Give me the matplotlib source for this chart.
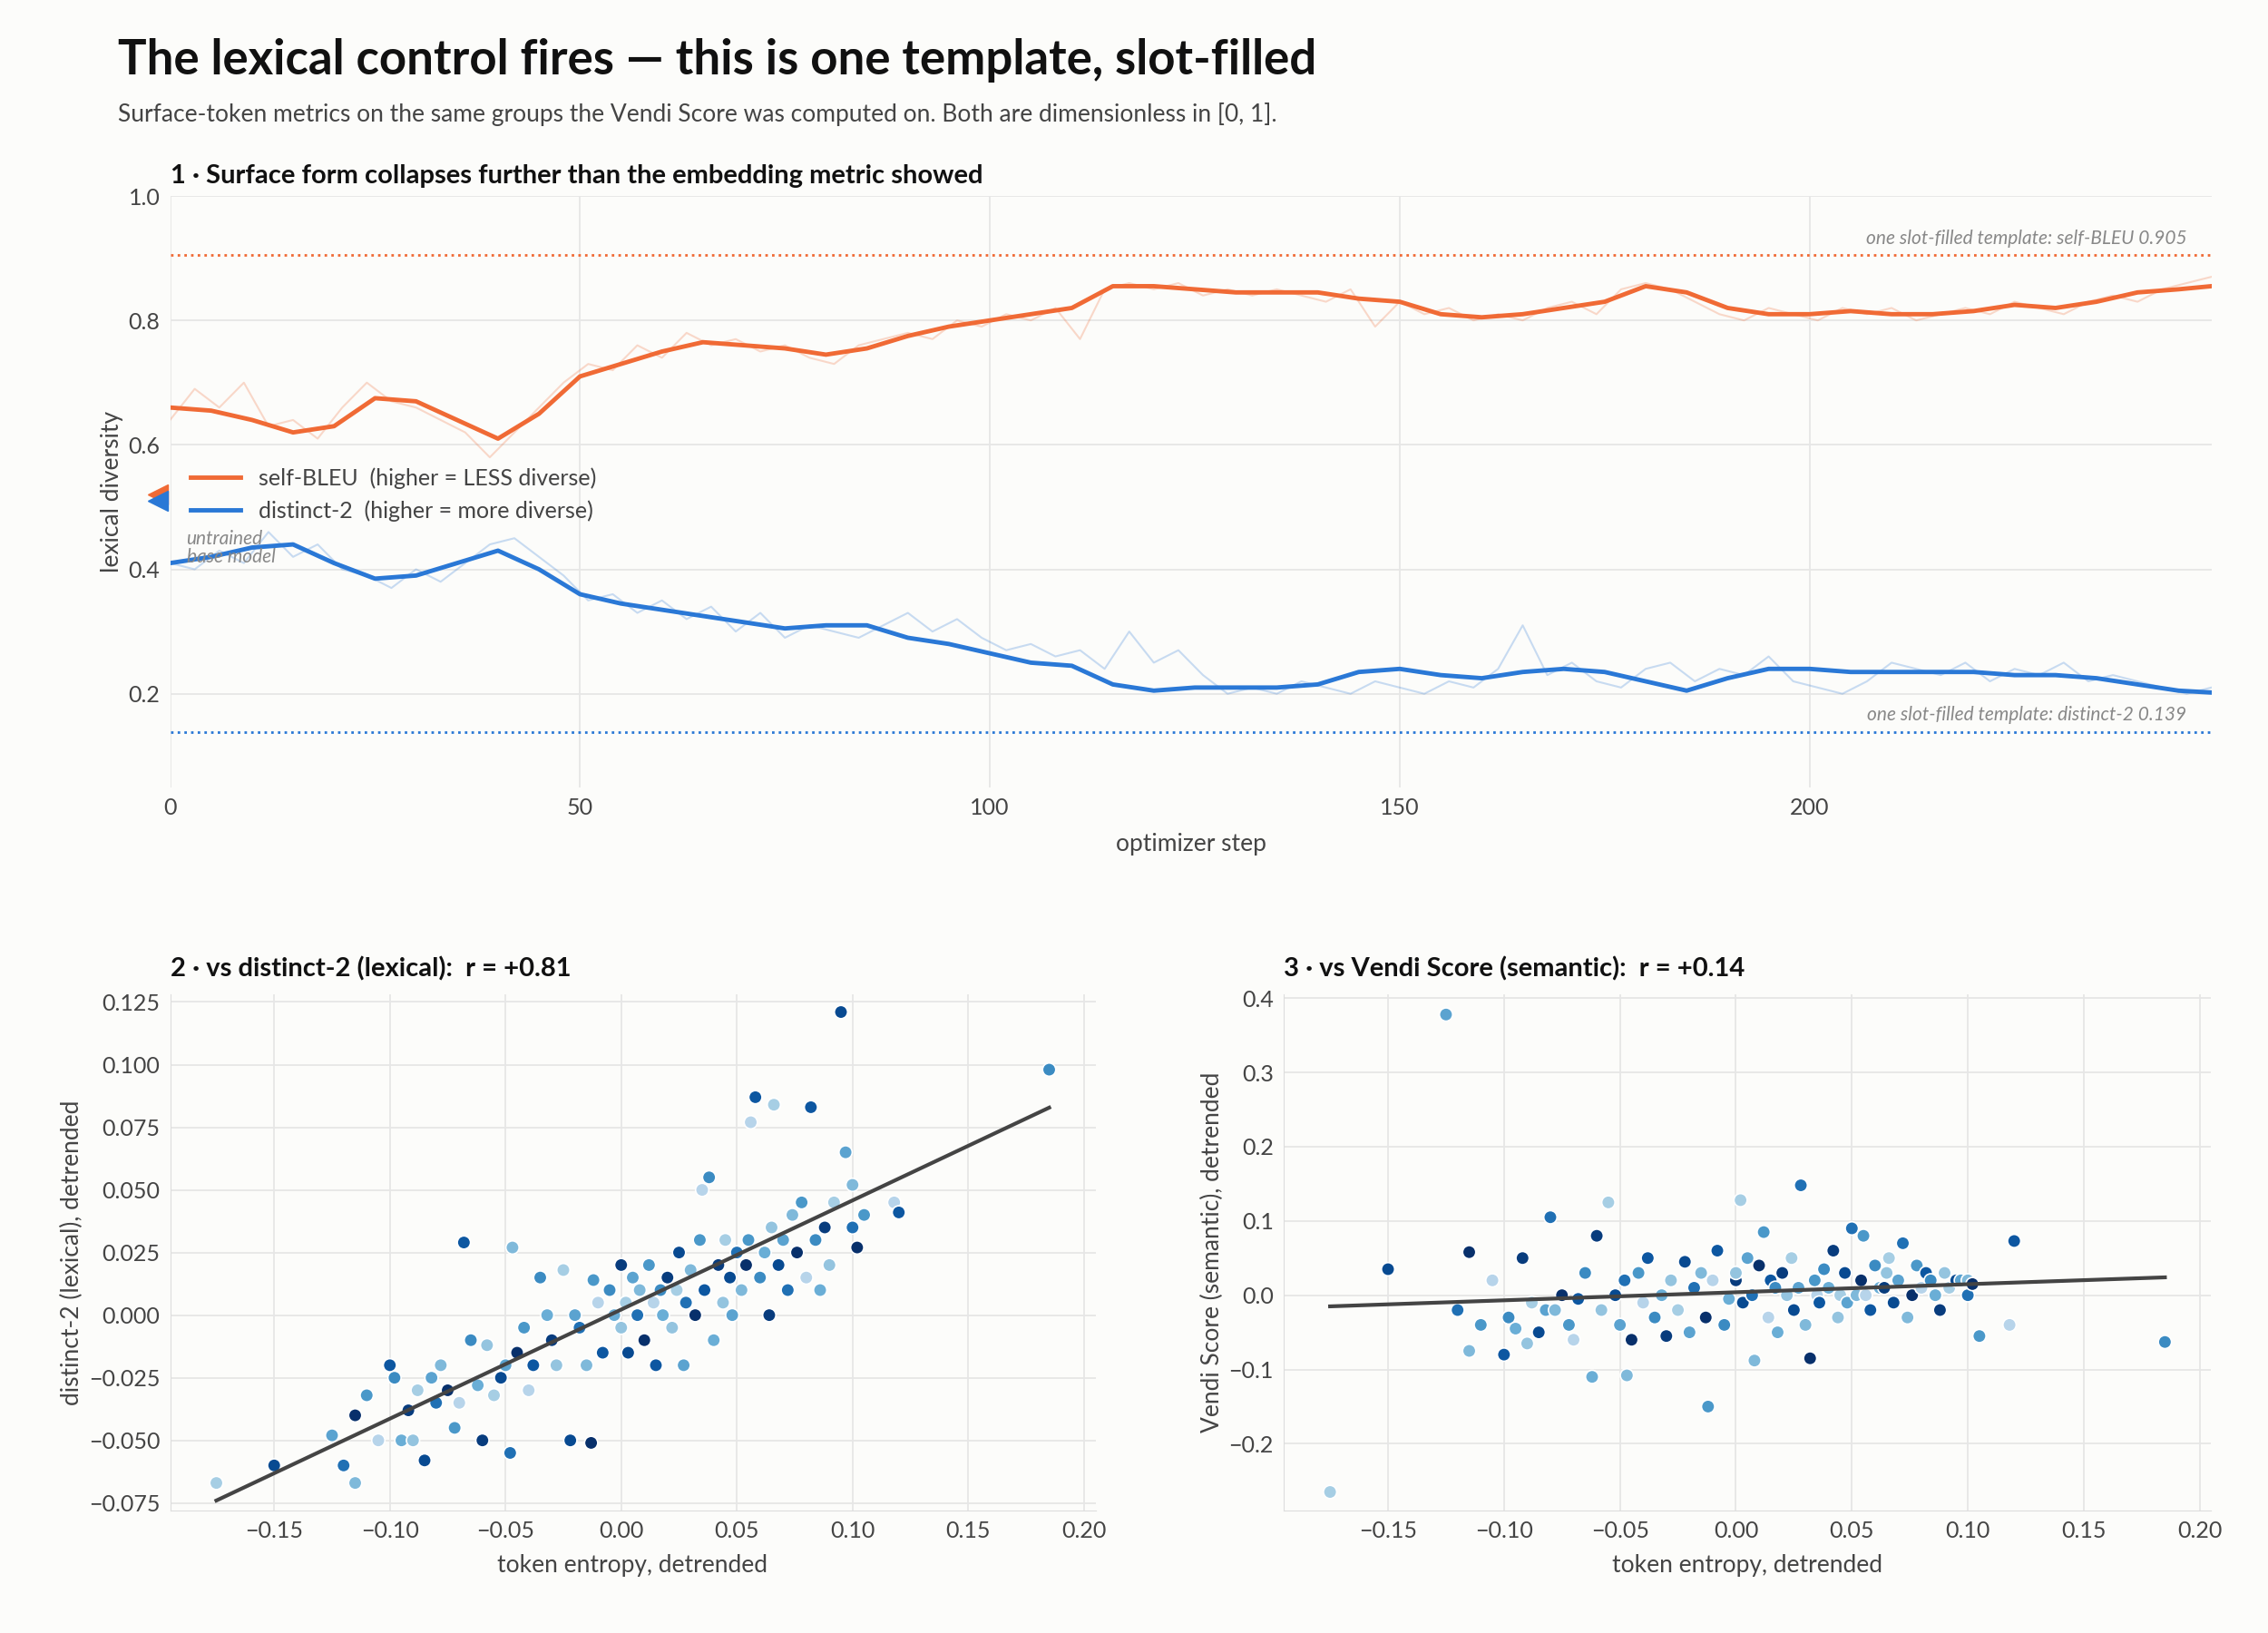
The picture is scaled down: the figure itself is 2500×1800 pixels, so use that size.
import matplotlib
matplotlib.use('Agg')
import matplotlib.pyplot as plt
import numpy as np

plt.rcParams['font.family'] = ['Lato', 'DejaVu Sans']

ORANGE = '#f06a35'
BLUE = '#2a78d6'
BG = '#fcfcfa'
GRID = '#e6e6e6'
TXT = '#444444'

# smoothed curves, every 5 optimizer steps (plus the last step)
smooth_steps = list(range(0, 250, 5)) + [249]
sb_smooth = [0.66, 0.655, 0.64, 0.62, 0.63, 0.675, 0.67, 0.64, 0.61, 0.65,
             0.71, 0.73, 0.75, 0.765, 0.76, 0.755, 0.745, 0.755, 0.775, 0.79,
             0.80, 0.81, 0.82, 0.855, 0.855, 0.85, 0.845, 0.845, 0.845, 0.835,
             0.83, 0.81, 0.805, 0.81, 0.82, 0.83, 0.855, 0.845, 0.82, 0.81,
             0.81, 0.815, 0.81, 0.81, 0.815, 0.825, 0.82, 0.83, 0.845, 0.85, 0.855]
d2_smooth = [0.41, 0.42, 0.435, 0.44, 0.41, 0.385, 0.39, 0.41, 0.43, 0.40,
             0.36, 0.345, 0.335, 0.325, 0.315, 0.305, 0.31, 0.31, 0.29, 0.28,
             0.265, 0.25, 0.245, 0.215, 0.205, 0.21, 0.21, 0.21, 0.215, 0.235,
             0.24, 0.23, 0.225, 0.235, 0.24, 0.235, 0.22, 0.205, 0.225, 0.24,
             0.24, 0.235, 0.235, 0.235, 0.235, 0.23, 0.23, 0.225, 0.215, 0.205, 0.202]

# raw per-step values, every 3 steps
sb_raw = [0.64, 0.69, 0.66, 0.70, 0.63, 0.64, 0.61, 0.66, 0.70, 0.67, 0.66, 0.64,
          0.62, 0.58, 0.62, 0.66, 0.70, 0.73, 0.72, 0.76, 0.74, 0.78, 0.76, 0.77,
          0.75, 0.76, 0.74, 0.73, 0.76, 0.77, 0.78, 0.77, 0.80, 0.79, 0.81, 0.80,
          0.82, 0.77, 0.85, 0.86, 0.85, 0.86, 0.84, 0.85, 0.84, 0.85, 0.84, 0.83,
          0.85, 0.79, 0.83, 0.81, 0.82, 0.80, 0.81, 0.80, 0.82, 0.83, 0.81, 0.85,
          0.86, 0.85, 0.83, 0.81, 0.80, 0.82, 0.81, 0.80, 0.82, 0.81, 0.82, 0.80,
          0.81, 0.82, 0.81, 0.83, 0.82, 0.81, 0.83, 0.84, 0.83, 0.85, 0.86, 0.87]
d2_raw = [0.41, 0.40, 0.43, 0.41, 0.46, 0.42, 0.44, 0.40, 0.39, 0.37, 0.40, 0.38,
          0.41, 0.44, 0.45, 0.42, 0.39, 0.35, 0.36, 0.33, 0.35, 0.32, 0.34, 0.30,
          0.33, 0.29, 0.31, 0.30, 0.29, 0.31, 0.33, 0.30, 0.32, 0.29, 0.27, 0.28,
          0.26, 0.27, 0.24, 0.30, 0.25, 0.27, 0.23, 0.20, 0.21, 0.20, 0.22, 0.21,
          0.20, 0.22, 0.21, 0.20, 0.22, 0.21, 0.24, 0.31, 0.23, 0.25, 0.22, 0.21,
          0.24, 0.25, 0.22, 0.24, 0.23, 0.26, 0.22, 0.21, 0.20, 0.22, 0.25, 0.24,
          0.23, 0.25, 0.22, 0.24, 0.23, 0.25, 0.22, 0.23, 0.22, 0.21, 0.20, 0.21]

template_sb = 0.905
template_d2 = 0.139
base_sb = 0.52
base_d2 = 0.51

# detrended per-group values: token entropy, distinct-2, Vendi Score
pts = [(-0.175, -0.067, -0.265), (-0.150, -0.060, 0.035), (-0.125, -0.048, 0.378), (-0.120, -0.060, -0.020),
       (-0.115, -0.067, -0.075), (-0.115, -0.040, 0.058), (-0.110, -0.032, -0.040), (-0.105, -0.050, 0.020),
       (-0.100, -0.020, -0.080), (-0.098, -0.025, -0.030), (-0.095, -0.050, -0.045), (-0.092, -0.038, 0.050),
       (-0.090, -0.050, -0.065), (-0.088, -0.030, -0.010), (-0.085, -0.058, -0.050), (-0.082, -0.025, -0.020),
       (-0.080, -0.035, 0.105), (-0.078, -0.020, -0.020), (-0.075, -0.030, 0.000), (-0.072, -0.045, -0.040),
       (-0.070, -0.035, -0.060), (-0.068, 0.029, -0.005), (-0.065, -0.010, 0.030), (-0.062, -0.028, -0.110),
       (-0.060, -0.050, 0.080), (-0.058, -0.012, -0.020), (-0.055, -0.032, 0.125), (-0.052, -0.025, 0.000),
       (-0.050, -0.020, -0.040), (-0.048, -0.055, 0.020), (-0.047, 0.027, -0.108), (-0.045, -0.015, -0.060),
       (-0.042, -0.005, 0.030), (-0.040, -0.030, -0.010), (-0.038, -0.020, 0.050), (-0.035, 0.015, -0.030),
       (-0.032, 0.000, 0.000), (-0.030, -0.010, -0.055), (-0.028, -0.020, 0.020), (-0.025, 0.018, -0.020),
       (-0.022, -0.050, 0.045), (-0.020, 0.000, -0.050), (-0.018, -0.005, 0.010), (-0.015, -0.020, 0.030),
       (-0.013, -0.051, -0.030), (-0.012, 0.014, -0.150), (-0.010, 0.005, 0.020), (-0.008, -0.015, 0.060),
       (-0.005, 0.010, -0.040), (-0.003, 0.000, -0.005), (0.000, 0.020, 0.020), (0.000, -0.005, 0.030),
       (0.002, 0.005, 0.128), (0.003, -0.015, -0.010), (0.005, 0.015, 0.050), (0.007, 0.000, 0.000),
       (0.008, 0.010, -0.088), (0.010, -0.010, 0.040), (0.012, 0.020, 0.085), (0.014, 0.005, -0.030),
       (0.015, -0.020, 0.020), (0.017, 0.010, 0.010), (0.018, 0.000, -0.050), (0.020, 0.015, 0.030),
       (0.022, -0.005, 0.000), (0.024, 0.010, 0.050), (0.025, 0.025, -0.020), (0.027, -0.020, 0.010),
       (0.028, 0.005, 0.148), (0.030, 0.018, -0.040), (0.032, 0.000, -0.085), (0.034, 0.030, 0.020),
       (0.035, 0.050, 0.000), (0.036, 0.010, -0.010), (0.038, 0.055, 0.035), (0.040, -0.010, 0.010),
       (0.042, 0.020, 0.060), (0.044, 0.005, -0.030), (0.045, 0.030, 0.000), (0.047, 0.015, 0.030),
       (0.048, 0.000, -0.010), (0.050, 0.025, 0.090), (0.052, 0.010, 0.000), (0.054, 0.020, 0.020),
       (0.055, 0.030, 0.080), (0.056, 0.077, 0.000), (0.058, 0.087, -0.020), (0.060, 0.015, 0.040),
       (0.062, 0.025, 0.010), (0.064, 0.000, 0.010), (0.065, 0.035, 0.030), (0.066, 0.084, 0.050),
       (0.068, 0.020, -0.010), (0.070, 0.030, 0.020), (0.072, 0.010, 0.070), (0.074, 0.040, -0.030),
       (0.076, 0.025, 0.000), (0.078, 0.045, 0.040), (0.080, 0.015, 0.010), (0.082, 0.083, 0.030),
       (0.084, 0.030, 0.020), (0.086, 0.010, 0.000), (0.088, 0.035, -0.020), (0.090, 0.020, 0.030),
       (0.092, 0.045, 0.010), (0.095, 0.121, 0.020), (0.097, 0.065, 0.020), (0.100, 0.035, 0.000),
       (0.100, 0.052, 0.020), (0.102, 0.027, 0.015), (0.105, 0.040, -0.055), (0.118, 0.045, -0.040),
       (0.120, 0.041, 0.073), (0.185, 0.098, -0.063)]
ent = np.array([p[0] for p in pts])
dist2 = np.array([p[1] for p in pts])
vendi = np.array([p[2] for p in pts])
shade_cycle = [0.35, 0.9, 0.55, 0.75, 0.45, 1.0, 0.6, 0.3, 0.85, 0.65, 0.5, 0.95, 0.4]
shades = np.resize(shade_cycle, len(pts))

fig = plt.figure(figsize=(25, 18), dpi=100, facecolor=BG)
fig.text(0.052, 0.963, 'The lexical control fires \u2014 this is one template, slot-filled',
         fontsize=38, fontweight='bold', color='#111111', va='center')
fig.text(0.052, 0.930, 'Surface-token metrics on the same groups the Vendi Score was computed on. '
         'Both are dimensionless in [0, 1].', fontsize=19, color=TXT, va='center')


def style(ax):
    ax.set_facecolor(BG)
    ax.grid(True, color=GRID, lw=1.3)
    ax.set_axisbelow(True)
    ax.tick_params(labelsize=18, colors=TXT, length=0, pad=8)
    for s in ax.spines.values():
        s.set_visible(False)


ax = fig.add_axes((0.075, 0.518, 0.9, 0.362))
style(ax)
raw_x = np.linspace(0, 249, len(sb_raw))
ax.plot(raw_x, sb_raw, color=ORANGE, alpha=0.25, lw=1.5)
ax.plot(np.linspace(0, 249, len(d2_raw)), d2_raw, color=BLUE, alpha=0.25, lw=1.5)
ax.plot(smooth_steps, sb_smooth, color=ORANGE, lw=3.5, label='self-BLEU  (higher = LESS diverse)')
ax.plot(smooth_steps, d2_smooth, color=BLUE, lw=3.5, label='distinct-2  (higher = more diverse)')
ax.axhline(template_sb, color=ORANGE, ls=':', lw=2)
ax.axhline(template_d2, color=BLUE, ls=':', lw=2)
ax.text(246, template_sb + 0.012, f'one slot-filled template: self-BLEU {template_sb}', ha='right',
        va='bottom', fontsize=15, style='italic', color='#888888')
ax.text(246, template_d2 + 0.012, f'one slot-filled template: distinct-2 {template_d2}', ha='right',
        va='bottom', fontsize=15, style='italic', color='#888888')
ax.plot([-1.5], [base_sb], marker='<', color=ORANGE, ms=16, clip_on=False)
ax.plot([-1.5], [base_d2], marker='<', color=BLUE, ms=16, clip_on=False)
ax.text(2, 0.435, 'untrained\nbase model', fontsize=15, style='italic', color='#888888',
        va='center', linespacing=1.0)
ax.set_xlim(0, 249)
ax.set_ylim(0.05, 1.0)
ax.set_yticks([0.2, 0.4, 0.6, 0.8, 1.0])
ax.set_xticks([0, 50, 100, 150, 200])
ax.set_xlabel('optimizer step', fontsize=19, color=TXT, labelpad=12)
ax.set_ylabel('lexical diversity', fontsize=19, color=TXT)
ax.set_title('1 \u00b7 Surface form collapses further than the embedding metric showed', loc='left',
             fontsize=21, fontweight='bold', color='#111111', pad=10)
ax.legend(loc='upper left', bbox_to_anchor=(0.0, 0.575), frameon=False, fontsize=18,
          labelcolor=TXT, handlelength=2.2)


def scatter_panel(rect, y, title, ylabel, ylim, yticks, fmt):
    a = fig.add_axes(rect)
    style(a)
    for s in ('left', 'bottom'):
        a.spines[s].set_visible(True)
        a.spines[s].set_color('#dddddd')
    a.scatter(ent, y, c=shades, cmap='Blues', vmin=0.0, vmax=1.0, s=110,
              edgecolors='white', linewidths=1.2, zorder=3)
    k, b = np.polyfit(ent, y, 1)
    xx = np.array([ent.min(), ent.max()])
    a.plot(xx, k * xx + b, color='#444444', lw=3, zorder=4)
    a.set_xlim(-0.195, 0.205)
    a.set_xticks([-0.15, -0.10, -0.05, 0.0, 0.05, 0.10, 0.15, 0.20])
    a.set_xticklabels([f'{v:.2f}'.replace('-', '\u2212') for v in a.get_xticks()])
    a.set_ylim(*ylim)
    a.set_yticks(yticks)
    a.set_yticklabels([(fmt % v).replace('-', '\u2212') for v in yticks])
    a.set_xlabel('token entropy, detrended', fontsize=19, color=TXT, labelpad=10)
    a.set_ylabel(ylabel, fontsize=19, color=TXT)
    a.set_title(title, loc='left', fontsize=21, fontweight='bold', color='#111111', pad=14)
    return a


scatter_panel((0.075, 0.075, 0.408, 0.316), dist2, '2 \u00b7 vs distinct-2 (lexical):  r = +0.81',
              'distinct-2 (lexical), detrended', (-0.078, 0.128),
              [-0.075, -0.05, -0.025, 0.0, 0.025, 0.05, 0.075, 0.1, 0.125], '%.3f')
scatter_panel((0.566, 0.075, 0.409, 0.316), vendi, '3 \u00b7 vs Vendi Score (semantic):  r = +0.14',
              'Vendi Score (semantic), detrended', (-0.29, 0.405),
              [-0.2, -0.1, 0.0, 0.1, 0.2, 0.3, 0.4], '%.1f')

fig.savefig('out.png', dpi=100, facecolor=BG)
